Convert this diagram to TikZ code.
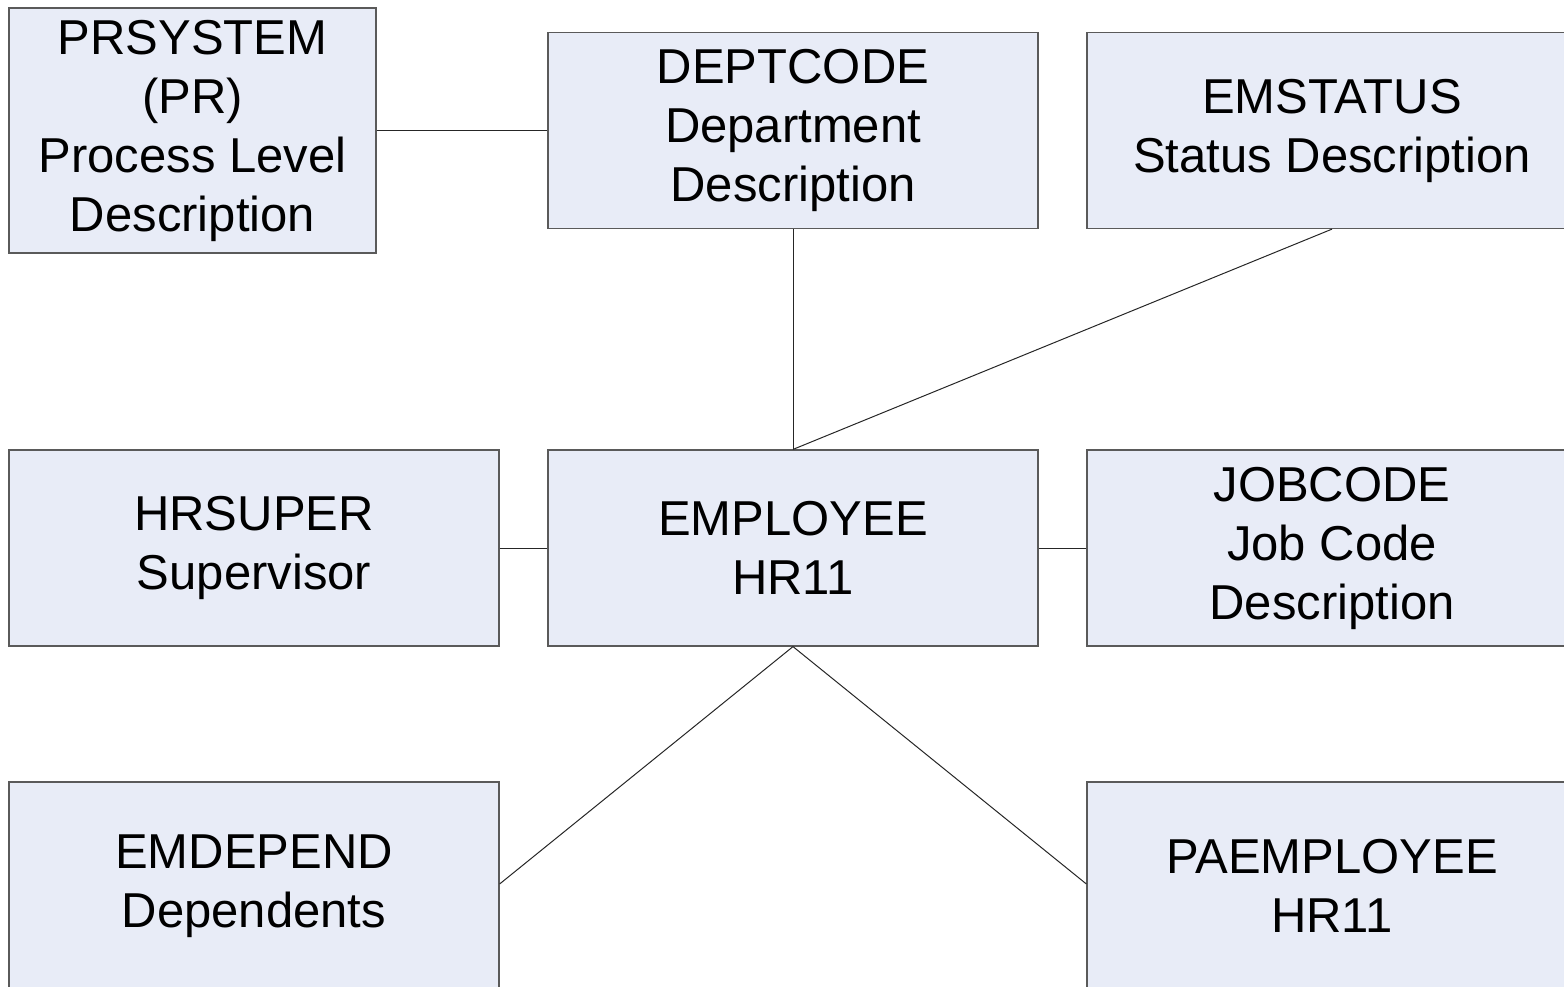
\documentclass[tikz,border=0pt]{standalone}
\usepackage{fontspec}
\setmainfont{Liberation Sans}
\definecolor{boxfill}{HTML}{E8ECF7}
\definecolor{boxline}{HTML}{5A5A5A}
\tikzset{
  table/.style={draw=boxline,fill=boxfill,line width=0.6pt,inner sep=0pt,
    minimum width=245pt,minimum height=98pt,align=center,
    font=\fontsize{24.5}{29.5}\selectfont},
  link/.style={draw=black!85,line width=0.5pt}
}
\begin{document}
\begin{tikzpicture}[x=0.5pt,y=-0.5pt]
    \useasboundingbox (0,0) rectangle (1564,986);
    \clip (0,0) rectangle (1564,986);
    \node[table,minimum width=183.5pt,minimum height=122.5pt] (prsystem) at (192.5,130.5)
      {PRSYSTEM\\(PR)\\Process Level\\Description};
    \node[table] (deptcode)  at (793,130.5)  {DEPTCODE\\Department\\Description};
    \node[table] (emstatus)  at (1332,130.5) {EMSTATUS\\Status Description};
    \node[table] (hrsuper)   at (254,548)    {HRSUPER\\Supervisor};
    \node[table] (employee)  at (793,548)    {EMPLOYEE\\HR11};
    \node[table] (jobcode)   at (1332,548)   {JOBCODE\\Job Code\\Description};
    \node[table,minimum height=104pt] (emdepend) at (254,886)  {EMDEPEND\\Dependents};
    \node[table,minimum height=104pt] (paemployee) at (1332,886) {PAEMPLOYEE\\HR11};
    % relations
    \draw[link] (prsystem.east) -- (deptcode.west);
    \draw[link] (deptcode.south) -- (employee.north);
    \draw[link] (emstatus.south) -- (employee.north);
    \draw[link] (hrsuper.east) -- (employee.west);
    \draw[link] (employee.east) -- (jobcode.west);
    \draw[link] (employee.south) -- ([yshift=1pt]emdepend.east);
    \draw[link] (employee.south) -- ([yshift=1pt]paemployee.west);
\end{tikzpicture}
\end{document}
